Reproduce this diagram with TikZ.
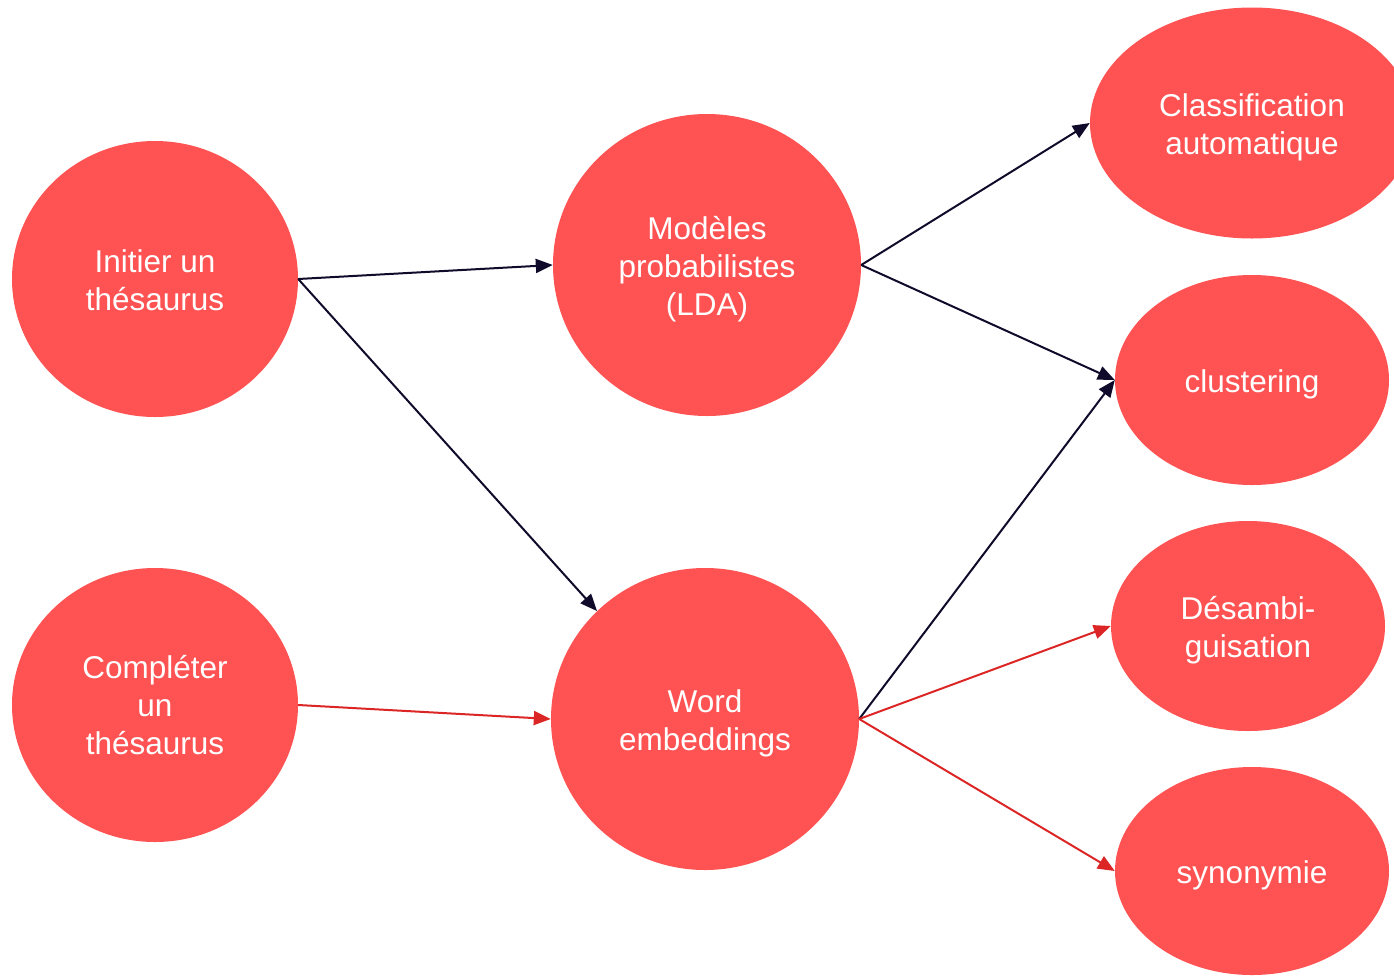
\documentclass[tikz,border=0pt]{standalone}
\usepackage{fontspec}
\setmainfont{Liberation Sans}
\usetikzlibrary{shapes.geometric,arrows.meta}
\definecolor{nodefill}{HTML}{FF5252}
\definecolor{darkarrow}{HTML}{100B2A}
\definecolor{redarrow}{HTML}{DC2626}
\tikzset{
  bubble/.style={ellipse, fill=nodefill, draw=none, inner sep=0pt},
  bubbletext/.style={align=center, text=white, inner sep=0pt, yshift=-4pt,
    font=\fontsize{31.5pt}{38pt}\selectfont},
  darkconn/.style={draw=darkarrow, line width=2pt, -{Triangle[length=17pt,width=14pt]}},
  redconn/.style={draw=redarrow, line width=2pt, -{Triangle[length=17pt,width=14pt]}},
}
\begin{document}
\begin{tikzpicture}[x=1pt,y=1pt]
\useasboundingbox (0,0) rectangle (1394,-975);
\clip (0,0) rectangle (1394,-975);
\node[bubble, minimum width=286pt, minimum height=276pt,
  label={[bubbletext,yshift=3pt]center:Initier un\\thésaurus}] (ini) at (155,-279) {};
\node[bubble, minimum width=286pt, minimum height=274pt,
  label={[bubbletext,yshift=4pt]center:Compléter\\un\\thésaurus}] (com) at (155,-705) {};
\node[bubble, minimum width=308pt, minimum height=302pt,
  label={[bubbletext]center:Modèles\\probabilistes\\(LDA)}] (mod) at (707,-265) {};
\node[bubble, minimum width=308pt, minimum height=302pt,
  label={[bubbletext]center:Word\\embeddings}] (wor) at (705,-719) {};
\node[bubble, minimum width=324pt, minimum height=231pt,
  label={[bubbletext]center:Classification\\automatique}] (cla) at (1252,-123) {};
\node[bubble, minimum width=274pt, minimum height=210pt,
  label={[bubbletext]center:clustering}] (clu) at (1252,-380) {};
\node[bubble, minimum width=274pt, minimum height=210pt,
  label={[bubbletext]center:Désambi-\\guisation}] (des) at (1248,-626) {};
\node[bubble, minimum width=274pt, minimum height=208pt,
  label={[bubbletext]center:synonymie}] (syn) at (1252,-871) {};
\draw[darkconn] (ini.east) -- (mod.west);
\draw[darkconn] (ini.east) -- (wor.135);
\draw[redconn] (com.east) -- (wor.west);
\draw[darkconn] (mod.east) -- (cla.west);
\draw[darkconn] (mod.east) -- (clu.west);
\draw[darkconn] (wor.east) -- (clu.west);
\draw[redconn] (wor.east) -- (des.west);
\draw[redconn] (wor.east) -- (syn.west);
\end{tikzpicture}
\end{document}
